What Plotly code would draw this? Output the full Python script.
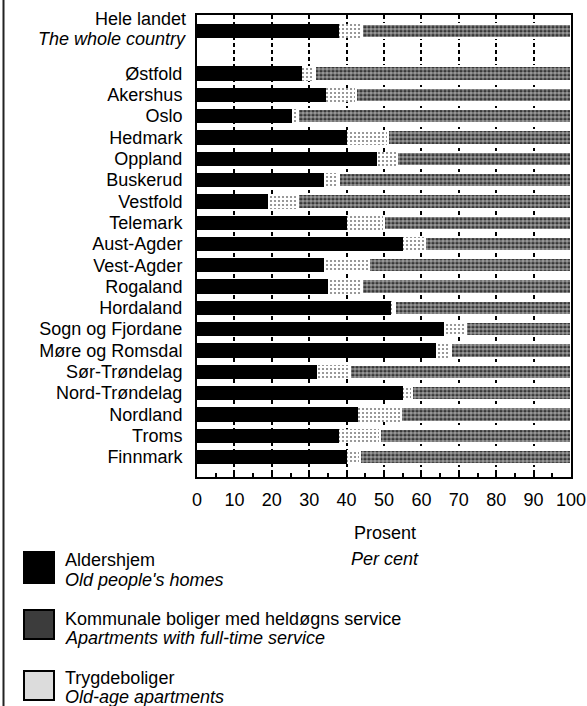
import plotly.graph_objects as go

# ---------------- data ----------------
regions = ["Hele landet", "Østfold", "Akershus", "Oslo", "Hedmark", "Oppland",
           "Buskerud", "Vestfold", "Telemark", "Aust-Agder", "Vest-Agder",
           "Rogaland", "Hordaland", "Sogn og Fjordane", "Møre og Romsdal",
           "Sør-Trøndelag", "Nord-Trøndelag", "Nordland", "Troms", "Finnmark"]
aldershjem = [38, 28, 34.5, 25.5, 40, 48, 34, 19, 40, 55, 34, 35, 52, 66, 64, 32, 55, 43, 38, 40]
kommunale = [6, 3.5, 8, 1.5, 11, 5.5, 4, 8, 10, 6, 12, 9, 1, 6, 4, 9, 2.5, 11.5, 11, 3.5]
trygde = [56, 68.5, 57.5, 73, 49, 46.5, 62, 73, 50, 39, 54, 56, 47, 28, 32, 59, 42.5, 45.5, 51, 56.5]
x_ticks = [0, 10, 20, 30, 40, 50, 60, 70, 80, 90, 100]

series_names = ["Aldershjem", "Kommunale boliger med heldøgns service", "Trygdeboliger"]
series_names_en = ["Old people's homes", "Apartments with full-time service", "Old-age apartments"]
axis_title = "Prosent"
axis_title_en = "Per cent"
whole_country_en = "The whole country"

# rows: whole country, an empty spacer row, then the counties
row_order = [regions[0], ""] + regions[1:]
ypos = [row_order.index(r) for r in regions]

# ---------------- geometry helpers ----------------
W, H = 587, 706
L, R, T, B = 197, 16, 15, 229
PW, PH = W - L - R, H - T - B


def px(x):
    return (x - L) / PW


def py(y):
    return (H - B - y) / PH


FONT = "Liberation Sans"
FS = 18

fig = go.Figure()
fig.add_bar(y=ypos, x=aldershjem, orientation="h", name=series_names[0],
            marker=dict(color="black", line=dict(width=0)))
fig.add_bar(y=ypos, x=kommunale, orientation="h", name=series_names[1],
            marker=dict(color="white", line=dict(width=0),
                        pattern=dict(shape=".", fgcolor="black", bgcolor="white",
                                     size=4, solidity=0.22)))
fig.add_bar(y=ypos, x=trygde, orientation="h", name=series_names[2],
            marker=dict(color="white", line=dict(width=2, color="white"),
                        pattern=dict(shape=".", fgcolor="white", bgcolor="#2a2a2a",
                                     size=4, solidity=0.68)))

fig.update_layout(
    width=W, height=H,
    margin=dict(l=L, r=R, t=T, b=B, pad=0, autoexpand=False),
    barmode="stack", bargap=0.33,
    showlegend=False,
    plot_bgcolor="white", paper_bgcolor="white",
    font=dict(family=FONT, size=FS, color="black"),
)
fig.update_xaxes(
    range=[0, 100], tickvals=x_ticks, ticktext=[str(v) for v in x_ticks],
    showgrid=True, gridcolor="black", gridwidth=2, griddash="4px,3px",
    showline=True, linecolor="black", linewidth=2, mirror=True,
    ticks="inside", ticklen=4, tickwidth=1.5, tickcolor="black",
    minor=dict(dtick=5, ticks="inside", ticklen=4, tickwidth=1.5, tickcolor="black", showgrid=False),
    tickfont=dict(family=FONT, size=FS, color="black"),
    ticklabelstandoff=5, zeroline=False, fixedrange=True, automargin=False,
)
fig.update_yaxes(
    range=[20.94, -0.75], tickvals=ypos[1:], ticktext=regions[1:],
    showgrid=False, showline=True, linecolor="black", linewidth=2, mirror=True,
    ticks="", tickfont=dict(family=FONT, size=FS, color="black"),
    ticklabelstandoff=9, zeroline=False, fixedrange=True, automargin=False,
)

ann = []


def text(x, y, s, anchor="left", italic=False, size=FS):
    ann.append(dict(
        x=px(x), y=py(y), xref="paper", yref="paper",
        text=f"<i>{s}</i>" if italic else s, showarrow=False,
        xanchor=anchor, yanchor="middle",
        font=dict(family=FONT, size=size, color="black")))


# whole-country label (two lines)
text(188, 19.5, regions[0], anchor="right")
text(188, 39, whole_country_en, anchor="right", italic=True)
# axis title
text(385, 533, axis_title, anchor="center")
text(385, 559, axis_title_en, anchor="center", italic=True)

# legend
leg_rows = [(552, 583, 560, 580, "black"),
            (610, 639, 619, 638, "#3c3c3c"),
            (671, 700, 678, 697, "#dcdcdc")]
shapes = []
for (y0, y1, t1, t2, col), n1, n2 in zip(leg_rows, series_names, series_names_en):
    shapes.append(dict(type="rect", xref="paper", yref="paper",
                       x0=px(24), x1=px(54), y0=py(y1), y1=py(y0),
                       fillcolor=col, line=dict(color="black", width=2)))
    text(63, t1, n1)
    text(63, t2, n2, italic=True)

# left frame line
shapes.append(dict(type="line", xref="paper", yref="paper",
                   x0=px(3.5), x1=px(3.5), y0=py(0), y1=py(H),
                   line=dict(color="#222222", width=2)))

fig.update_layout(annotations=ann, shapes=shapes)
fig.write_html(
    "out.html",
    config={"displayModeBar": False},
    post_script="document.body.style.margin='0';document.body.style.padding='0';"
                "document.documentElement.style.overflow='hidden';"
                "document.body.style.overflow='hidden';",
)
